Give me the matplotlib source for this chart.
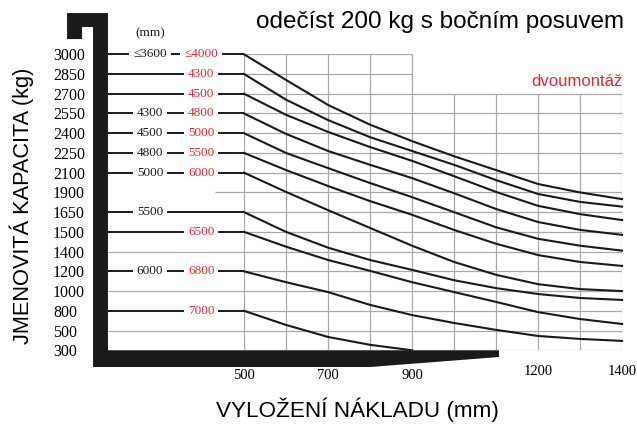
import numpy as np
import matplotlib
matplotlib.use("Agg")
import matplotlib.pyplot as plt
import matplotlib.transforms as mtransforms
from matplotlib.patches import Polygon

# load reach (mm) at which capacities were read
reach_mm = [500, 600, 700, 800, 900, 1000, 1100, 1200, 1300, 1400]
reach_ticks = [500, 700, 900, 1200, 1400]

# capacity rows on the (non-linear) y axis
row_kg = [3000, 2850, 2700, 2550, 2400, 2250, 2100, 1900,
          1650, 1500, 1400, 1200, 1000, 800, 500, 300]

# capacity curves (kg)
curve_3000 = [3000, 2805, 2615, 2465, 2340, 2225, 2120, 1985, 1900, 1815]
curve_2850 = [2850, 2655, 2500, 2370, 2265, 2160, 2025, 1880, 1780, 1720]
curve_2700 = [2700, 2540, 2410, 2295, 2190, 2065, 1905, 1730, 1635, 1590]
curve_2550 = [2550, 2395, 2265, 2160, 2045, 1890, 1690, 1575, 1515, 1485]
curve_2400 = [2400, 2250, 2135, 1995, 1840, 1650, 1535, 1465, 1430, 1405]
curve_2250 = [2250, 2120, 1965, 1790, 1630, 1515, 1440, 1365, 1295, 1255]
curve_2100 = [2100, 1905, 1675, 1530, 1430, 1295, 1165, 1070, 1020, 1000]
curve_1650 = [1650, 1500, 1420, 1315, 1215, 1110, 1030, 970, 930, 910]
curve_1500 = [1500, 1425, 1315, 1205, 1090, 990, 890, 780, 675, 600]
curve_1200 = [1200, 1090, 990, 860, 735, 615, 510, 445, 415, 395]
curve_800 = [800, 585, 435, 355, 300]

# lift heights (mm) written on each starting row
height_std = ["≤3600", "", "", "4300", "4500", "4800", "5000", "5500", "", "6000", ""]
height_alt = ["≤4000", "4300", "4500", "4800", "5000", "5500", "6000", "", "6500", "6800", "7000"]

CURVES = [curve_3000, curve_2850, curve_2700, curve_2550, curve_2400, curve_2250,
          curve_2100, curve_1650, curve_1500, curve_1200, curve_800]

RED = "#e0283a"
INK = "#1a1a1a"
GRID = "#a9a9a9"
SERIF = ["Liberation Serif", "DejaVu Serif"]
SANS = ["Liberation Sans", "DejaVu Sans"]


def main():
    plt.rcParams["font.family"] = SANS
    fig = plt.figure(figsize=(6.37, 4.32), dpi=100)
    ax = fig.add_axes([0.3831, 0.1892, 0.5934, 0.6851])

    # rows are evenly spaced although the kg steps are not
    kg_asc = np.array(sorted(row_kg), dtype=float)
    pos = np.arange(len(kg_asc), dtype=float)
    ax.set_yscale("function",
                  functions=(lambda v: np.interp(v, kg_asc, pos),
                             lambda p: np.interp(p, pos, kg_asc)))
    ax.set_xlim(500, 1400)
    ax.set_ylim(300, 3000)

    # grid: upper two rows only up to 900 mm
    ax.vlines([500, 600, 700, 800, 900], 300, 3000, color=GRID, lw=0.9, zorder=1)
    ax.vlines([1000, 1100, 1200, 1300, 1400], 300, 2700, color=GRID, lw=0.9, zorder=1)
    ax.hlines([3000, 2850], 500, 900, color=GRID, lw=0.9, zorder=1)
    ax.hlines(row_kg[2:], 500, 1400, color=GRID, lw=0.9, zorder=1)
    g = ax.hlines([1400, 1000, 500], 176, 500, color=GRID, lw=0.9, zorder=1)
    g.set_clip_on(False)
    g = ax.hlines([1900], 431, 500, color=GRID, lw=0.9, zorder=1)
    g.set_clip_on(False)

    # lines from the mast to the start of each curve
    starts = [c[0] for c in CURVES]
    ln = ax.hlines(starts, 176, 500, color=INK, lw=1.4, zorder=3)
    ln.set_clip_on(False)
    for kg, a, b in zip(starts, height_std, height_alt):
        box = dict(boxstyle="square,pad=0.3", fc="white", ec="none")
        if a:
            ax.text(276, kg, a, color=INK, fontsize=9.5, family=SERIF,
                    ha="center", va="center", bbox=box, zorder=4, clip_on=False)
        if b:
            ax.text(398, kg, b, color=RED, fontsize=9.5, family=SERIF,
                    ha="center", va="center", bbox=box, zorder=4, clip_on=False)

    for c in CURVES:
        ax.plot(reach_mm[:len(c)], c, color=INK, lw=1.5, zorder=3, clip_on=False,
                solid_joinstyle="round")

    # forklift mast and fork outline
    trans = mtransforms.blended_transform_factory(ax.transData, ax.transAxes)
    outline = [(78.6, 1.0515), (78.6, 1.1394), (176, 1.1394), (176, 0.0),
               (1107, 0.0), (1107, -0.0228), (800, -0.0566), (140.5, -0.0566),
               (140.5, 1.0921), (114.3, 1.0921), (114.3, 1.0515)]
    ax.add_patch(Polygon(outline, closed=True, transform=trans, fc=INK,
                         ec="none", clip_on=False, zorder=5))
    ax.text(276, 1.0718, "(mm)", transform=trans, fontsize=9.5, family=SERIF,
            ha="center", va="center", color=INK)

    # ticks
    ax.set_yticks(row_kg)
    ax.set_yticklabels([str(v) for v in row_kg], family=SERIF, fontsize=11.5, ha="left")
    ax.tick_params(axis="y", length=0, pad=137.5)
    ax.set_xticks(reach_ticks)
    ax.set_xticklabels([str(v) for v in reach_ticks], family=SERIF, fontsize=10.5)
    ax.tick_params(axis="x", length=0, pad=13.2)
    for t in ax.xaxis.get_major_ticks()[3:]:
        t.set_pad(10.4)
    ax.minorticks_off()
    for s in ax.spines.values():
        s.set_visible(False)

    fig.text(624 / 637, 1 - 22 / 432, "odečíst 200 kg s bočním posuvem",
             fontsize=17.5, ha="right", va="center")
    fig.text(622 / 637, 1 - 82 / 432, "dvoumontáž", color=RED,
             fontsize=12, ha="right", va="center")
    fig.text(22 / 637, 1 - 206 / 432, "JMENOVITÁ KAPACITA (kg)", rotation=90,
             fontsize=15.7, ha="center", va="center")
    fig.text(357 / 637, 1 - 410 / 432, "VYLOŽENÍ NÁKLADU (mm)",
             fontsize=16.2, ha="center", va="center")

    fig.savefig("out.png", dpi=100, facecolor="white")
    plt.close(fig)


if __name__ == "__main__":
    main()
